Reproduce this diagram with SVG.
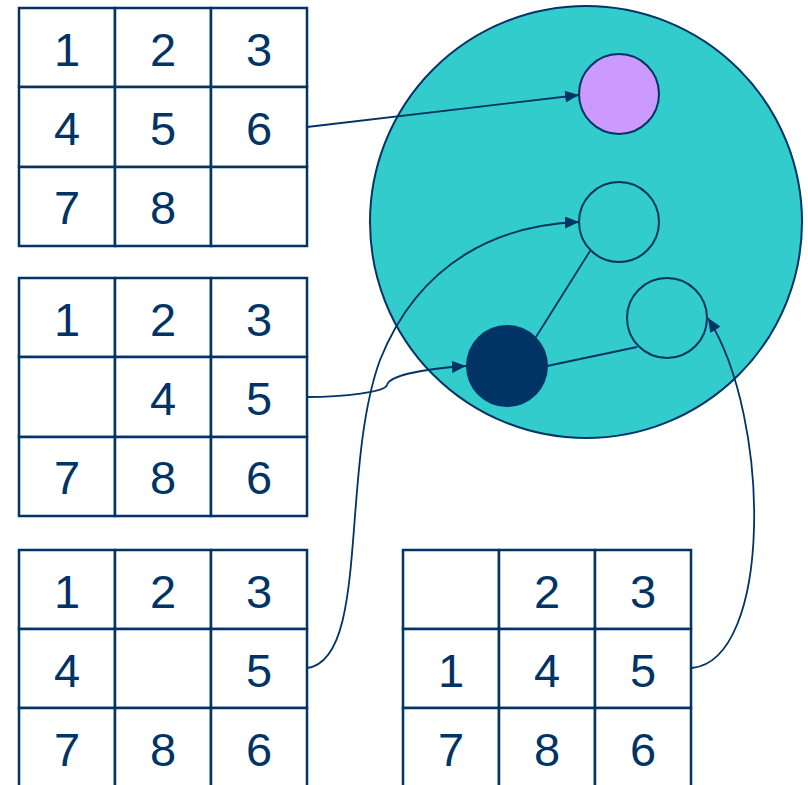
<svg xmlns="http://www.w3.org/2000/svg" width="808" height="785" viewBox="0 0 808 785">
<style>
.cell{fill:#fff;stroke:#003366;stroke-width:2.5}
.num{font-family:"Liberation Sans",Arial,sans-serif;font-size:47px;fill:#003366;text-anchor:middle}
.conn{fill:none;stroke:#003366;stroke-width:1.8}
.node{stroke:#003366;stroke-width:2}
</style>
<defs>
<marker id="arr" viewBox="0 0 14 12" refX="14" refY="6" markerWidth="14" markerHeight="12" markerUnits="userSpaceOnUse" orient="auto">
<path d="M0,0 L14,6 L0,12 Z" fill="#003366"/>
</marker>
</defs>
<g id="space">
<circle cx="586" cy="222" r="216" fill="#33CCCC" stroke="#003366" stroke-width="2"/>
</g>
<g id="grid1">
<rect class="cell" x="19" y="8" width="96" height="79"/><rect class="cell" x="115" y="8" width="96" height="79"/><rect class="cell" x="211" y="8" width="96" height="79"/>
<rect class="cell" x="19" y="87" width="96" height="80"/><rect class="cell" x="115" y="87" width="96" height="80"/><rect class="cell" x="211" y="87" width="96" height="80"/>
<rect class="cell" x="19" y="167" width="96" height="79"/><rect class="cell" x="115" y="167" width="96" height="79"/><rect class="cell" x="211" y="167" width="96" height="79"/>
<text class="num" x="67" y="66">1</text><text class="num" x="163" y="66">2</text><text class="num" x="259" y="66">3</text>
<text class="num" x="67" y="145">4</text><text class="num" x="163" y="145">5</text><text class="num" x="259" y="145">6</text>
<text class="num" x="67" y="224">7</text><text class="num" x="163" y="224">8</text>
</g>
<g id="grid2">
<rect class="cell" x="19" y="278" width="96" height="79"/><rect class="cell" x="115" y="278" width="96" height="79"/><rect class="cell" x="211" y="278" width="96" height="79"/>
<rect class="cell" x="19" y="357" width="96" height="80"/><rect class="cell" x="115" y="357" width="96" height="80"/><rect class="cell" x="211" y="357" width="96" height="80"/>
<rect class="cell" x="19" y="437" width="96" height="79"/><rect class="cell" x="115" y="437" width="96" height="79"/><rect class="cell" x="211" y="437" width="96" height="79"/>
<text class="num" x="67" y="336">1</text><text class="num" x="163" y="336">2</text><text class="num" x="259" y="336">3</text>
<text class="num" x="163" y="415">4</text><text class="num" x="259" y="415">5</text>
<text class="num" x="67" y="494">7</text><text class="num" x="163" y="494">8</text><text class="num" x="259" y="494">6</text>
</g>
<g id="grid3">
<rect class="cell" x="19" y="550" width="96" height="79"/><rect class="cell" x="115" y="550" width="96" height="79"/><rect class="cell" x="211" y="550" width="96" height="79"/>
<rect class="cell" x="19" y="629" width="96" height="79"/><rect class="cell" x="115" y="629" width="96" height="79"/><rect class="cell" x="211" y="629" width="96" height="79"/>
<rect class="cell" x="19" y="708" width="96" height="80"/><rect class="cell" x="115" y="708" width="96" height="80"/><rect class="cell" x="211" y="708" width="96" height="80"/>
<text class="num" x="67" y="608">1</text><text class="num" x="163" y="608">2</text><text class="num" x="259" y="608">3</text>
<text class="num" x="67" y="687">4</text><text class="num" x="259" y="687">5</text>
<text class="num" x="67" y="766">7</text><text class="num" x="163" y="766">8</text><text class="num" x="259" y="766">6</text>
</g>
<g id="grid4">
<rect class="cell" x="403" y="550" width="96" height="79"/><rect class="cell" x="499" y="550" width="96" height="79"/><rect class="cell" x="595" y="550" width="96" height="79"/>
<rect class="cell" x="403" y="629" width="96" height="79"/><rect class="cell" x="499" y="629" width="96" height="79"/><rect class="cell" x="595" y="629" width="96" height="79"/>
<rect class="cell" x="403" y="708" width="96" height="80"/><rect class="cell" x="499" y="708" width="96" height="80"/><rect class="cell" x="595" y="708" width="96" height="80"/>
<text class="num" x="547" y="608">2</text><text class="num" x="643" y="608">3</text>
<text class="num" x="451" y="687">1</text><text class="num" x="547" y="687">4</text><text class="num" x="643" y="687">5</text>
<text class="num" x="451" y="766">7</text><text class="num" x="547" y="766">8</text><text class="num" x="643" y="766">6</text>
</g>
<g id="connectors">
<line class="conn" x1="536" y1="337" x2="590" y2="251"/>
<line class="conn" x1="547" y1="366" x2="637" y2="347"/>
<path class="conn" d="M307,127 L579,95" marker-end="url(#arr)"/>
<path class="conn" d="M307,397 C345,397 385,392 387,385 C389,376 420,369 466,366" marker-end="url(#arr)"/>
<path class="conn" d="M307,668 C370,660 340,470 380,360 C420,260 500,225 579,222" marker-end="url(#arr)"/>
<path class="conn" d="M692,668 C772,660 772,420 708,318" marker-end="url(#arr)"/>
</g>
<g id="state-goal"><circle class="node" cx="619" cy="94" r="40" fill="#CC99FF"/></g>
<g id="state-a"><circle class="node" cx="619" cy="222" r="40" fill="none"/></g>
<g id="state-b"><circle class="node" cx="667" cy="318" r="40" fill="none"/></g>
<g id="state-current"><circle cx="507" cy="366" r="41" fill="#003366"/></g>
</svg>
